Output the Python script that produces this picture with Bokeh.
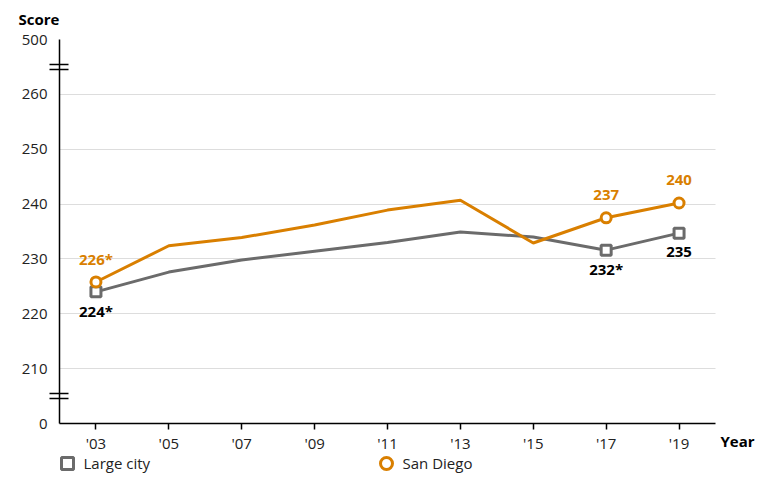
import pandas as pd
from bokeh.plotting import figure
from bokeh.layouts import column
from bokeh.models import ColumnDataSource, Range1d, FixedTicker, Legend, LegendItem
from bokeh.core.properties import value
from bokeh.embed import file_html
from bokeh.resources import INLINE

# ---- data ----
YEARS = [2003, 2005, 2007, 2009, 2011, 2013, 2015, 2017, 2019]
LARGE_CITY = [224.0, 227.6, 229.8, 231.4, 233.0, 234.9, 234.0, 231.6, 234.7]
SAN_DIEGO = [225.8, 232.4, 233.9, 236.2, 238.9, 240.7, 232.9, 237.5, 240.2]
LARGE_CITY_LABELS = ["224*", "", "", "", "", "", "", "232*", "235"]
SAN_DIEGO_LABELS = ["226*", "", "", "", "", "", "", "237", "240"]
SERIES_NAMES = ["Large city", "San Diego"]
X_TICKS = [2003, 2005, 2007, 2009, 2011, 2013, 2015, 2017, 2019]
X_TICK_LABELS = ["'03", "'05", "'07", "'09", "'11", "'13", "'15", "'17", "'19"]
Y_TICKS = [200, 210, 220, 230, 240, 250, 260, 270]
Y_TICK_LABELS = ["0", "210", "220", "230", "240", "250", "260", "500"]
AXIS_BREAKS = [205, 265]
X_AXIS_SPAN = (2002, 2020)

ORANGE = "#D97F00"
GRAY = "#6B6B6B"
FONT = "Open Sans"

W, H = 764, 453
B_LEFT, B_TOP, B_RIGHT, B_BOTTOM = 59, 38, 27, 30
AXIS_PX = 656  # pixel length of the drawn x axis
frame_w = W - B_LEFT - B_RIGHT
x_end = X_AXIS_SPAN[0] + frame_w * (X_AXIS_SPAN[1] - X_AXIS_SPAN[0]) / AXIS_PX
Y_LO, Y_HI = Y_TICKS[0], Y_TICKS[-1]
frame_h = H - B_TOP - B_BOTTOM
px = (Y_HI - Y_LO) / frame_h

df = pd.DataFrame({"year": YEARS, "lc": LARGE_CITY, "sd": SAN_DIEGO,
                   "lc_lab": LARGE_CITY_LABELS, "sd_lab": SAN_DIEGO_LABELS})
src = ColumnDataSource(df)
marked = df[df["sd_lab"] != ""]
msrc = ColumnDataSource(marked)

p = figure(width=W, height=H, output_backend="svg", toolbar_location=None,
           x_range=Range1d(X_AXIS_SPAN[0], x_end), y_range=Range1d(Y_LO, Y_HI),
           min_border_left=B_LEFT, min_border_right=B_RIGHT,
           min_border_top=B_TOP, min_border_bottom=B_BOTTOM)
p.outline_line_color = None
p.background_fill_color = "white"

# title ("Score")
p.title.text = "Score"
p.title.align = "left"
p.title.vertical_align = "top"
p.title.offset = -41
p.title.standoff = 17
p.title.text_font = FONT
p.title.text_font_size = "15px"
p.title.text_font_style = "bold"
p.title.text_color = "black"

# axes
p.xaxis.ticker = FixedTicker(ticks=X_TICKS)
p.xaxis.major_label_overrides = dict(zip(X_TICKS, X_TICK_LABELS))
p.xaxis.bounds = X_AXIS_SPAN
minor = []
for b in AXIS_BREAKS:
    minor += [b - 2.5 * px, b + 2.5 * px]
p.yaxis.ticker = FixedTicker(ticks=Y_TICKS, minor_ticks=minor)
p.yaxis.major_label_overrides = dict(zip(Y_TICKS, Y_TICK_LABELS))
for ax in (p.xaxis, p.yaxis):
    ax.axis_line_color = "black"
    ax.axis_line_width = 1.5
    ax.major_tick_line_color = "black"
    ax.major_tick_line_width = 1.5
    ax.major_tick_in = 0
    ax.major_label_text_font = FONT
    ax.major_label_text_font_size = "15px"
    ax.major_label_text_color = "#222222"
p.xaxis.minor_tick_line_color = None
p.xaxis.major_tick_out = 6
p.xaxis.major_label_standoff = 3
p.yaxis.major_tick_out = 0
p.yaxis.major_label_standoff = 2
p.yaxis.minor_tick_line_color = "black"
p.yaxis.minor_tick_line_width = 1.3
p.yaxis.minor_tick_in = 9
p.yaxis.minor_tick_out = 10

# "Year" as x axis label at the right end, on the tick label row
p.xaxis.axis_label = "Year"
p.xaxis.axis_label_align = "end"
p.xaxis.axis_label_standoff = -25
p.xaxis.axis_label_text_font = FONT
p.xaxis.axis_label_text_font_size = "15px"
p.xaxis.axis_label_text_font_style = "bold"
p.xaxis.axis_label_text_color = "black"

p.xgrid.visible = False
p.ygrid.ticker = FixedTicker(ticks=Y_TICKS)
p.ygrid.cross_bounds = X_AXIS_SPAN
p.ygrid.grid_line_color = "#DDDDDD"
p.ygrid.grid_line_width = 1

# lines
p.line("year", "lc", source=src, line_color=GRAY, line_width=3)
p.line("year", "sd", source=src, line_color=ORANGE, line_width=3)

p.scatter("year", "lc", source=msrc, marker="square", size=10,
          line_color=GRAY, line_width=3, fill_color="white")
p.scatter("year", "sd", source=msrc, marker="circle", size=10,
          line_color=ORANGE, line_width=3, fill_color="white")

# data labels
p.text("year", "sd", text="sd_lab", source=msrc, text_align="center",
       text_baseline="alphabetic", y_offset=-23, text_color=ORANGE,
       text_font=value(FONT), text_font_size="15px", text_font_style="bold")
p.text("year", "lc", text="lc_lab", source=msrc, text_align="center",
       text_baseline="alphabetic", y_offset=19, text_color="black",
       text_font=value(FONT), text_font_size="15px", text_font_style="bold")

# ---- legend strip below the chart ----
LH = 29
lg = figure(width=W, height=LH, output_backend="svg", toolbar_location=None,
            x_range=Range1d(0, 1), y_range=Range1d(0, 1),
            min_border=0, x_axis_type=None, y_axis_type=None)
lg.outline_line_color = None
lg.xgrid.visible = False
lg.ygrid.visible = False
hidden = ColumnDataSource(dict(x=[float("nan")], y=[float("nan")]))
r_lc = lg.scatter("x", "y", source=hidden, marker="square", size=10,
                  line_color=GRAY, line_width=3, fill_color="white")
r_sd = lg.scatter("x", "y", source=hidden, marker="circle", size=10,
                  line_color=ORANGE, line_width=3, fill_color="white")
legend = Legend(items=[LegendItem(label=SERIES_NAMES[0], renderers=[r_lc]),
                       LegendItem(label=SERIES_NAMES[1], renderers=[r_sd])],
                orientation="horizontal", location=(-7.5, 4),
                glyph_width=30, glyph_height=30, label_standoff=2, label_width=287,
                spacing=0, padding=0, margin=0,
                border_line_alpha=0, background_fill_alpha=0,
                label_text_font=FONT, label_text_font_size="15px",
                label_text_color="#222222")
lg.add_layout(legend)

layout = column(p, lg, spacing=0)
open("out.html", "w").write(file_html(layout, INLINE))
